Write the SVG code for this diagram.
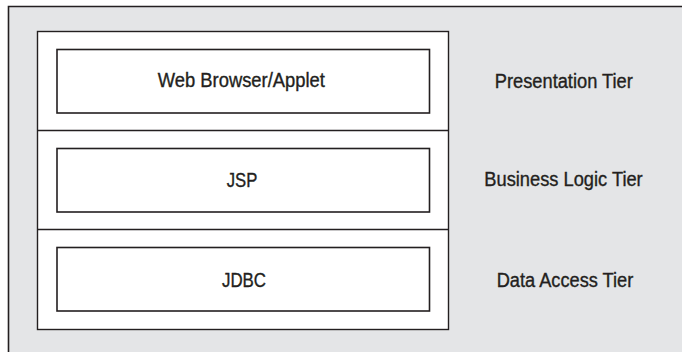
<svg xmlns="http://www.w3.org/2000/svg" width="682" height="352" viewBox="0 0 682 352">
  <style>
    .stack { fill: #ffffff; stroke: #231f20; stroke-width: 1.4; }
    .box { fill: #ffffff; stroke: #231f20; stroke-width: 1.6; }
    .div { stroke: #231f20; stroke-width: 1.4; }
    text { font-family: "Liberation Sans", Arial, sans-serif; font-size: 19.5px; fill: #231f20; stroke: #231f20; stroke-width: 0.35; text-anchor: middle; }
  </style>
  <rect x="0" y="0" width="682" height="352" fill="#ffffff"/>
  <g id="frame">
    <rect x="8.5" y="6.5" width="700" height="360" fill="#e4e5e7"/>
    <path d="M 690 6.5 L 8.5 6.5 L 8.5 360" fill="none" stroke="#231f20" stroke-width="1.6"/>
  </g>
  <g id="stack">
    <rect class="stack" x="37.5" y="31.5" width="411" height="298"/>
  </g>
  <g id="connectors">
    <line class="div" x1="37.5" y1="130.5" x2="448.5" y2="130.5"/>
    <line class="div" x1="37.5" y1="229.5" x2="448.5" y2="229.5"/>
  </g>
  <g id="web-browser">
    <rect class="box" x="57" y="49.5" width="372.5" height="63.5"/>
    <text x="241.3" y="86.7" textLength="167" lengthAdjust="spacingAndGlyphs">Web Browser/Applet</text>
  </g>
  <g id="jsp">
    <rect class="box" x="57" y="148.5" width="372.5" height="63.5"/>
    <text x="242" y="186.7" textLength="30.6" lengthAdjust="spacingAndGlyphs">JSP</text>
  </g>
  <g id="jdbc">
    <rect class="box" x="57" y="247.5" width="372.5" height="63.5"/>
    <text x="244" y="286.7" textLength="44" lengthAdjust="spacingAndGlyphs">JDBC</text>
  </g>
  <g id="presentation-tier">
    <text x="563.8" y="88.3" textLength="138" lengthAdjust="spacingAndGlyphs">Presentation Tier</text>
  </g>
  <g id="business-logic-tier">
    <text x="563.5" y="186.3" textLength="158.4" lengthAdjust="spacingAndGlyphs">Business Logic Tier</text>
  </g>
  <g id="data-access-tier">
    <text x="565" y="286.7" textLength="136.6" lengthAdjust="spacingAndGlyphs">Data Access Tier</text>
  </g>
</svg>
